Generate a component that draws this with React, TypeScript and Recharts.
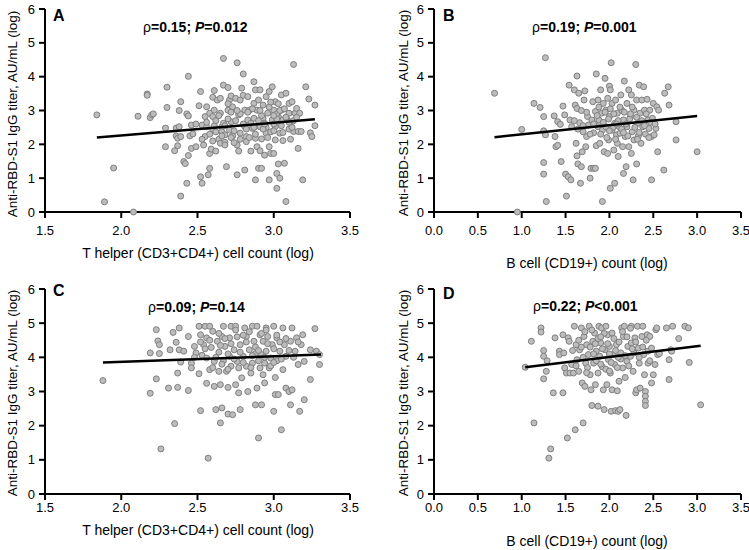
import React from 'react';
import { ScatterChart, Scatter, XAxis, YAxis } from 'recharts';

type Pt = [number, number];

const FONT = '"Liberation Sans", Arial, Helvetica, sans-serif';

const xTicksTHelper = [1.5, 2.0, 2.5, 3.0, 3.5];
const xTicksBCell = [0, 0.5, 1.0, 1.5, 2.0, 2.5, 3.0, 3.5];
const yTicks = [0, 1, 2, 3, 4, 5, 6];

const yLabel = 'Anti-RBD-S1 IgG titer, AU/mL (log)';
const xLabelTHelper = 'T helper (CD3+CD4+) cell count (log)';
const xLabelBCell = 'B cell (CD19+) count (log)';

// Panel A: T helper vs titer (first)
const pointsA: Pt[] = [
  [1.84, 2.87], [1.89, 0.3], [1.95, 1.3], [2.08, 0.0], [2.11, 2.83], [2.17, 3.49], [2.17, 3.45],
  [2.19, 2.79], [2.2, 2.87], [2.21, 2.9], [2.29, 1.93], [2.29, 2.48], [2.3, 3.69], [2.3, 3.09],
  [2.35, 1.81], [2.36, 2.48], [2.36, 2.25], [2.37, 2.18], [2.37, 1.96], [2.38, 3.0], [2.39, 3.26],
  [2.38, 2.52], [2.39, 2.23], [2.39, 0.47], [2.41, 1.49], [2.42, 1.43], [2.43, 0.85], [2.44, 4.01],
  [2.43, 2.9], [2.44, 2.84], [2.44, 1.67], [2.45, 2.25], [2.46, 2.57], [2.46, 1.88], [2.47, 2.31],
  [2.49, 1.93], [2.49, 2.6], [2.51, 3.14], [2.52, 3.56], [2.52, 1.04], [2.53, 0.85], [2.53, 2.57],
  [2.54, 1.98], [2.55, 2.82], [2.56, 3.11], [2.55, 2.23], [2.56, 2.52], [2.57, 1.1], [2.58, 2.92],
  [2.58, 1.29], [2.58, 1.73], [2.59, 1.86], [2.6, 2.44], [2.61, 3.59], [2.6, 3.39], [2.61, 3.01],
  [2.6, 2.82], [2.61, 2.55], [2.62, 2.37], [2.62, 1.8], [2.63, 3.31], [2.64, 2.15], [2.65, 3.36],
  [2.65, 2.92], [2.65, 2.03], [2.66, 2.52], [2.66, 2.37], [2.67, 2.62], [2.67, 4.54], [2.67, 3.75],
  [2.68, 2.28], [2.68, 2.06], [2.68, 1.98], [2.69, 1.34], [2.7, 3.68], [2.7, 3.01], [2.71, 3.31],
  [2.71, 2.42], [2.72, 2.67], [2.72, 3.43], [2.73, 3.11], [2.73, 2.25], [2.75, 2.7], [2.75, 3.36],
  [2.76, 1.98], [2.76, 4.41], [2.76, 1.1], [2.77, 1.8], [2.77, 2.87], [2.78, 2.33], [2.78, 3.31],
  [2.79, 3.66], [2.8, 3.45], [2.8, 4.08], [2.8, 2.59], [2.81, 2.52], [2.81, 3.01], [2.81, 1.24],
  [2.82, 2.23], [2.82, 2.08], [2.83, 2.72], [2.83, 3.41], [2.84, 3.01], [2.85, 1.8], [2.86, 2.47],
  [2.87, 3.85], [2.87, 3.21], [2.87, 2.77], [2.88, 2.18], [2.88, 3.61], [2.88, 0.95], [2.89, 1.93],
  [2.89, 3.01], [2.9, 1.29], [2.9, 3.31], [2.91, 3.61], [2.91, 2.52], [2.91, 1.81], [2.92, 2.16],
  [2.92, 1.29], [2.93, 2.77], [2.93, 3.16], [2.94, 1.68], [2.94, 2.62], [2.95, 3.41], [2.95, 2.33],
  [2.96, 2.92], [2.97, 0.95], [2.97, 1.93], [2.97, 3.56], [2.98, 2.37], [2.98, 1.73], [2.99, 2.72],
  [2.99, 3.7], [3.0, 1.73], [3.0, 3.01], [3.01, 3.26], [3.01, 2.13], [3.01, 2.52], [3.02, 0.7],
  [3.02, 1.14], [3.03, 2.82], [3.03, 1.42], [3.04, 1.0], [3.04, 2.33], [3.05, 3.46], [3.05, 3.01],
  [3.06, 2.11], [3.06, 2.72], [3.07, 1.44], [3.08, 0.31], [3.08, 3.51], [3.09, 2.72], [3.1, 2.92],
  [3.1, 3.21], [3.11, 2.15], [3.12, 3.26], [3.12, 2.67], [3.13, 2.38], [3.13, 4.36], [3.14, 2.92],
  [3.15, 3.06], [3.16, 2.38], [3.16, 1.88], [3.17, 2.92], [3.18, 2.38], [3.19, 0.95], [3.21, 3.7],
  [3.23, 3.34], [3.24, 2.34], [3.25, 2.23], [3.27, 3.16], [3.27, 2.55],
  [2.62, 2.7], [2.68, 2.55], [2.72, 2.2], [2.74, 2.05], [2.78, 2.9], [2.82, 2.45], [2.85, 2.62],
  [2.88, 2.3], [2.92, 2.85], [2.95, 2.5], [2.97, 3.1], [3.0, 2.6], [3.02, 2.9], [3.03, 3.2],
  [3.05, 2.55], [3.08, 2.8], [3.1, 2.65], [2.58, 2.3], [2.6, 2.1], [2.64, 2.85], [2.7, 2.75],
  [2.74, 2.4], [2.76, 3.0], [2.8, 2.6], [2.84, 2.2], [2.86, 3.05], [2.9, 2.7], [2.93, 2.45],
  [2.96, 2.2], [2.98, 3.25], [3.0, 2.4], [3.02, 2.75], [3.04, 3.0], [3.07, 3.05], [3.1, 2.45],
  [3.13, 2.7], [3.15, 2.8], [2.53, 2.15], [2.56, 2.65], [2.66, 2.25], [2.7, 3.2], [2.72, 2.95],
  [2.78, 2.15], [2.83, 2.95], [2.87, 2.5], [2.91, 3.0], [2.94, 2.6], [3.0, 2.85], [3.06, 2.35],
  [3.12, 2.5],
];
const fitA: Pt[] = [[1.84, 2.2], [3.27, 2.74]];

// Panel B: B cell vs titer (first)
const pointsB: Pt[] = [
  [0.69, 3.51], [1.0, 2.44], [1.14, 3.21], [1.21, 3.09], [1.25, 2.82], [1.25, 2.4], [1.25, 1.46],
  [1.25, 1.12], [1.27, 4.56], [1.27, 2.28], [1.28, 0.31], [0.95, 0.0], [1.37, 2.84], [1.38, 2.23],
  [1.39, 1.93], [1.41, 1.97], [1.41, 2.67], [1.44, 2.59], [1.45, 1.49], [1.47, 3.13], [1.49, 2.87],
  [1.5, 1.12], [1.51, 0.47], [1.53, 1.04], [1.54, 3.75], [1.55, 2.72], [1.56, 0.95], [1.57, 2.52],
  [1.6, 3.61], [1.61, 3.16], [1.62, 2.03], [1.63, 4.02], [1.63, 1.66], [1.63, 3.06], [1.64, 1.42],
  [1.65, 3.51], [1.66, 2.64], [1.67, 0.85], [1.68, 1.34], [1.69, 1.78], [1.7, 2.37], [1.71, 3.31],
  [1.72, 3.58], [1.73, 1.93], [1.74, 2.23], [1.75, 2.82], [1.76, 2.57], [1.78, 1.0], [1.79, 1.29],
  [1.8, 2.72], [1.81, 3.26], [1.82, 1.29], [1.82, 2.34], [1.84, 2.97], [1.84, 1.29], [1.85, 4.08],
  [1.85, 1.96], [1.87, 3.31], [1.87, 2.52], [1.88, 2.72], [1.89, 2.03], [1.9, 3.61], [1.91, 2.92],
  [1.92, 0.31], [1.92, 2.42], [1.93, 3.21], [1.94, 1.78], [1.95, 3.95], [1.96, 2.52], [1.96, 3.01],
  [1.98, 1.73], [1.98, 3.36], [1.99, 2.13], [2.0, 3.72], [2.0, 2.82], [2.01, 3.61], [2.01, 0.7],
  [2.02, 4.41], [2.03, 2.42], [2.03, 3.21], [2.05, 1.83], [2.06, 2.62], [2.06, 0.85], [2.07, 3.31],
  [2.08, 2.28], [2.09, 2.92], [2.09, 2.03], [2.1, 1.64], [2.11, 2.52], [2.12, 2.33], [2.13, 3.46],
  [2.14, 3.01], [2.15, 1.93], [2.16, 1.14], [2.16, 2.72], [2.17, 3.87], [2.18, 2.23], [2.19, 1.34],
  [2.2, 3.21], [2.2, 2.52], [2.22, 3.61], [2.22, 1.93], [2.24, 2.82], [2.25, 3.46], [2.25, 1.73],
  [2.26, 2.37], [2.27, 0.95], [2.28, 3.01], [2.28, 2.13], [2.3, 4.36], [2.31, 3.31], [2.31, 1.42],
  [2.32, 2.62], [2.33, 2.25], [2.34, 3.75], [2.35, 2.92], [2.36, 2.03], [2.37, 3.31], [2.38, 2.52],
  [2.39, 3.7], [2.4, 3.01], [2.41, 2.3], [2.43, 3.33], [2.44, 2.72], [2.45, 2.47], [2.46, 3.01],
  [2.48, 2.23], [2.48, 0.95], [2.49, 2.77], [2.5, 3.21], [2.51, 2.28], [2.53, 2.47], [2.54, 3.11],
  [2.55, 1.78], [2.56, 3.01], [2.62, 1.24], [2.63, 3.51], [2.67, 3.7], [2.68, 3.16], [2.76, 2.67],
  [2.76, 2.13], [3.0, 1.78],
  [1.82, 2.6], [1.86, 2.85], [1.9, 2.3], [1.93, 2.65], [1.95, 2.95], [1.97, 2.2], [1.99, 2.75],
  [2.01, 3.05], [2.04, 2.5], [2.05, 2.9], [2.07, 2.15], [2.1, 2.7], [2.12, 3.1], [2.14, 2.45],
  [2.17, 2.95], [2.19, 2.6], [2.21, 2.25], [2.23, 2.75], [2.26, 3.1], [2.29, 2.5], [2.31, 2.8],
  [2.34, 2.35], [2.37, 2.7], [2.4, 2.55], [2.42, 2.9], [2.45, 2.2], [2.47, 2.65], [1.7, 2.55],
  [1.74, 2.95], [1.78, 2.3], [1.6, 2.7], [1.64, 2.45], [1.68, 3.0], [2.0, 2.4], [2.08, 2.6],
  [2.16, 2.35], [2.24, 2.9], [2.32, 2.15], [2.52, 2.6], [1.88, 3.1],
];
const fitB: Pt[] = [[0.69, 2.21], [3.0, 2.84]];

// Panel C: T helper vs titer (second)
const pointsC: Pt[] = [
  [1.88, 3.32], [2.19, 2.95], [2.19, 4.13], [2.23, 4.81], [2.23, 3.37], [2.24, 4.48], [2.25, 4.37],
  [2.26, 1.32], [2.25, 4.11], [2.31, 3.1], [2.32, 4.22], [2.34, 4.73], [2.35, 2.06], [2.36, 4.44],
  [2.37, 3.54], [2.37, 3.12], [2.38, 4.86], [2.38, 4.22], [2.39, 3.86], [2.41, 4.18], [2.44, 4.61],
  [2.44, 3.03], [2.46, 3.83], [2.46, 3.69], [2.48, 4.32], [2.49, 4.13], [2.51, 3.52], [2.51, 4.91],
  [2.52, 4.66], [2.52, 2.44], [2.53, 4.06], [2.54, 4.37], [2.55, 4.91], [2.56, 4.57], [2.56, 3.98],
  [2.56, 3.24], [2.57, 1.05], [2.58, 4.91], [2.58, 3.64], [2.59, 4.29], [2.6, 4.76], [2.61, 3.15],
  [2.61, 3.88], [2.62, 2.47], [2.63, 4.47], [2.64, 4.15], [2.64, 3.59], [2.65, 3.2], [2.65, 2.08],
  [2.66, 4.61], [2.66, 2.52], [2.67, 4.91], [2.67, 3.9], [2.68, 4.32], [2.69, 3.59], [2.7, 3.12],
  [2.7, 2.34], [2.71, 4.03], [2.71, 4.57], [2.72, 4.91], [2.72, 3.74], [2.73, 2.32], [2.74, 4.22],
  [2.75, 4.91], [2.75, 3.2], [2.76, 3.88], [2.77, 2.96], [2.77, 3.69], [2.78, 2.47], [2.78, 4.37],
  [2.79, 3.4], [2.8, 4.03], [2.81, 4.86], [2.82, 3.74], [2.82, 4.61], [2.83, 3.0], [2.84, 4.22],
  [2.85, 3.54], [2.86, 4.91], [2.86, 3.83], [2.87, 4.47], [2.88, 2.61], [2.88, 4.11], [2.89, 4.91],
  [2.89, 3.1], [2.9, 1.64], [2.91, 3.69], [2.91, 4.66], [2.92, 4.08], [2.92, 2.61], [2.93, 3.49],
  [2.93, 4.47], [2.94, 3.25], [2.94, 3.83], [2.95, 4.86], [2.95, 4.18], [2.96, 4.61], [2.97, 3.69],
  [2.98, 3.98], [2.99, 4.37], [3.0, 4.91], [3.0, 2.42], [3.01, 3.41], [3.01, 2.91], [3.02, 4.57],
  [3.02, 3.9], [3.03, 2.91], [3.04, 4.18], [3.05, 1.88], [3.06, 4.86], [3.06, 3.64], [3.07, 4.37],
  [3.08, 3.1], [3.08, 4.03], [3.1, 3.0], [3.11, 2.61], [3.11, 4.47], [3.12, 3.05], [3.12, 4.86],
  [3.14, 4.18], [3.15, 4.57], [3.16, 3.79], [3.17, 2.42], [3.18, 4.37], [3.19, 4.66], [3.2, 3.88],
  [3.2, 2.76], [3.24, 4.22], [3.24, 3.35], [3.27, 4.84], [3.28, 4.18], [3.3, 4.08], [3.3, 3.79],
  [2.55, 4.25], [2.58, 4.5], [2.62, 4.0], [2.64, 4.7], [2.66, 3.8], [2.68, 4.55], [2.7, 4.1],
  [2.72, 4.4], [2.74, 3.95], [2.76, 4.6], [2.78, 4.15], [2.8, 3.85], [2.82, 4.45], [2.84, 4.75],
  [2.86, 4.05], [2.88, 4.3], [2.9, 3.9], [2.92, 4.7], [2.94, 4.0], [2.96, 4.4], [2.98, 3.75],
  [3.0, 4.25], [3.02, 4.65], [3.05, 3.95], [3.08, 4.55], [3.1, 4.2], [3.13, 4.0], [3.16, 4.45],
  [2.6, 3.7], [2.7, 3.65], [2.8, 4.65], [2.9, 4.2], [3.0, 3.85], [2.52, 4.45], [2.65, 4.35],
  [2.75, 4.8], [2.85, 3.7], [2.95, 4.8], [3.04, 4.45], [2.48, 4.0],
];
const fitC: Pt[] = [[1.88, 3.85], [3.31, 4.08]];

// Panel D: B cell vs titer (second)
const pointsD: Pt[] = [
  [1.04, 3.71], [1.11, 4.47], [1.14, 2.08], [1.22, 4.86], [1.22, 4.74], [1.25, 4.2], [1.25, 4.03],
  [1.25, 3.37], [1.28, 3.59], [1.29, 3.9], [1.31, 1.05], [1.33, 1.32], [1.36, 2.96], [1.38, 4.57],
  [1.43, 4.18], [1.43, 4.08], [1.47, 4.66], [1.47, 2.96], [1.48, 4.13], [1.49, 3.69], [1.51, 3.54],
  [1.52, 1.64], [1.53, 4.57], [1.54, 4.47], [1.55, 3.54], [1.57, 3.79], [1.59, 3.54], [1.6, 4.91],
  [1.61, 1.88], [1.62, 4.37], [1.63, 3.93], [1.65, 3.59], [1.66, 4.22], [1.68, 4.86], [1.69, 3.25],
  [1.7, 2.08], [1.71, 4.61], [1.72, 3.15], [1.73, 3.83], [1.74, 4.37], [1.76, 4.08], [1.77, 4.91],
  [1.78, 3.49], [1.79, 3.05], [1.8, 2.59], [1.81, 4.47], [1.82, 3.83], [1.83, 4.71], [1.84, 3.2],
  [1.85, 4.18], [1.87, 2.57], [1.87, 3.54], [1.88, 4.91], [1.89, 4.03], [1.9, 4.42], [1.91, 4.86],
  [1.92, 3.72], [1.93, 3.05], [1.94, 2.47], [1.95, 4.22], [1.96, 4.91], [1.97, 3.2], [1.98, 4.66],
  [1.99, 3.93], [2.0, 4.32], [2.01, 3.54], [2.02, 2.42], [2.03, 4.71], [2.03, 3.05], [2.04, 4.08],
  [2.06, 3.79], [2.07, 2.44], [2.08, 4.37], [2.09, 3.02], [2.1, 2.42], [2.11, 3.3], [2.12, 2.47],
  [2.13, 4.13], [2.14, 4.86], [2.15, 3.69], [2.16, 4.61], [2.17, 4.91], [2.18, 3.41], [2.19, 2.3],
  [2.2, 3.88], [2.21, 4.32], [2.24, 4.03], [2.25, 4.42], [2.25, 4.91], [2.27, 3.59], [2.28, 4.13],
  [2.29, 4.57], [2.3, 2.96], [2.31, 3.05], [2.32, 4.91], [2.33, 4.27], [2.34, 3.83], [2.35, 3.1],
  [2.37, 4.61], [2.38, 4.91], [2.39, 4.08], [2.4, 3.49], [2.41, 3.0], [2.41, 2.86], [2.41, 2.71],
  [2.41, 2.59], [2.43, 4.66], [2.44, 3.83], [2.44, 4.18], [2.46, 4.61], [2.48, 3.25], [2.48, 4.27],
  [2.5, 3.49], [2.52, 3.79], [2.53, 4.81], [2.54, 4.86], [2.55, 4.08], [2.57, 4.11], [2.65, 4.86],
  [2.68, 3.35], [2.68, 3.93], [2.7, 4.22], [2.71, 4.18], [2.72, 4.91], [2.79, 4.55], [2.86, 4.91],
  [2.9, 4.86], [2.91, 3.85], [3.04, 2.61],
  [1.65, 4.5], [1.7, 4.0], [1.72, 4.75], [1.75, 3.7], [1.78, 4.3], [1.8, 4.8], [1.82, 4.1],
  [1.85, 3.9], [1.87, 4.55], [1.9, 3.8], [1.92, 4.25], [1.94, 4.7], [1.96, 3.65], [1.98, 4.4],
  [2.0, 4.1], [2.02, 3.85], [2.05, 4.55], [2.07, 4.2], [2.09, 3.7], [2.11, 4.45], [2.13, 3.95],
  [2.15, 4.75], [2.18, 4.05], [2.2, 4.6], [2.22, 3.75], [2.26, 4.25], [2.3, 4.45], [2.34, 4.0],
  [2.38, 4.3], [2.42, 4.5], [2.46, 3.9], [1.58, 4.2], [1.62, 3.75], [1.68, 4.3], [1.74, 3.55],
  [1.84, 4.4], [1.9, 4.6], [2.0, 3.6], [2.1, 4.0], [2.24, 4.85],
];
const fitD: Pt[] = [[1.04, 3.71], [3.04, 4.34]];

const Dot = (props: any) => (
  <circle cx={props.cx} cy={props.cy} r={3} fill="#bcbcbc" stroke="#7f7f7f" strokeWidth={1} />
);
const NoShape = () => <g />;

type PanelProps = {
  left: number;
  top: number;
  width: number;
  height: number;
  marginTop: number;
  marginRight: number;
  yAxisWidth: number;
  xAxisHeight: number;
  xTickMargin: number;
  xDomain: [number, number];
  xTicks: number[];
  points: Pt[];
  fit: Pt[];
};

function Panel(p: PanelProps) {
  const data = p.points.map(([x, y]) => ({ x, y }));
  const fitData = p.fit.map(([x, y]) => ({ x, y }));
  return (
    <div style={{ position: 'absolute', left: p.left, top: p.top }}>
      <ScatterChart
        width={p.width}
        height={p.height}
        margin={{ top: p.marginTop, right: p.marginRight, left: 0, bottom: 0 }}
      >
        <XAxis
          type="number"
          dataKey="x"
          domain={p.xDomain}
          ticks={p.xTicks}
          interval={0}
          tickFormatter={(v: number) => v.toFixed(1)}
          axisLine={{ stroke: '#000', strokeWidth: 2 }}
          tickLine={{ stroke: '#000', strokeWidth: 2 }}
          tickSize={6}
          tickMargin={p.xTickMargin}
          height={p.xAxisHeight}
          tick={{ fill: '#000', fontSize: 13, fontFamily: FONT }}
        />
        <YAxis
          type="number"
          dataKey="y"
          domain={[0, 6]}
          ticks={yTicks}
          interval={0}
          axisLine={{ stroke: '#000', strokeWidth: 2 }}
          tickLine={{ stroke: '#000', strokeWidth: 2 }}
          tickSize={6}
          tickMargin={4}
          width={p.yAxisWidth}
          tick={{ fill: '#000', fontSize: 13, fontFamily: FONT }}
        />
        <Scatter data={data} shape={Dot} isAnimationActive={false} />
        <Scatter
          data={fitData}
          line={{ stroke: '#000', strokeWidth: 2.5 }}
          shape={NoShape}
          isAnimationActive={false}
        />
      </ScatterChart>
    </div>
  );
}

function Stats({ x, y, rho, pText }: { x: number; y: number; rho: string; pText: string }) {
  return (
    <text x={x} y={y} fontSize={14} fontFamily={FONT} fill="#000">
      <tspan fontWeight="normal">ρ</tspan>
      <tspan fontWeight="bold">{'=' + rho + '; '}</tspan>
      <tspan fontWeight="bold" fontStyle="italic">P</tspan>
      <tspan fontWeight="bold">{pText}</tspan>
    </text>
  );
}

function YLabel({ cx, cy }: { cx: number; cy: number }) {
  return (
    <text
      x={cx}
      y={cy}
      transform={`rotate(-90 ${cx} ${cy})`}
      textAnchor="middle"
      dominantBaseline="central"
      fontSize={13.5}
      fontFamily={FONT}
      fill="#000"
    >
      {yLabel}
    </text>
  );
}

function XLabel({ cx, cy, text }: { cx: number; cy: number; text: string }) {
  return (
    <text x={cx} y={cy} textAnchor="middle" dominantBaseline="central" fontSize={14} fontFamily={FONT} fill="#000">
      {text}
    </text>
  );
}

function Letter({ x, y, t }: { x: number; y: number; t: string }) {
  return (
    <text x={x} y={y} fontSize={16} fontWeight="bold" fontFamily={FONT} fill="#000">
      {t}
    </text>
  );
}

export default function App() {
  return (
    <div style={{ position: 'absolute', left: 0, top: 0, width: 749, height: 550, background: '#fff', overflow: 'hidden' }}>
      <Panel left={0} top={0} width={375} height={275} marginTop={9} marginRight={25} yAxisWidth={45}
        xAxisHeight={63} xTickMargin={8} xDomain={[1.5, 3.5]} xTicks={xTicksTHelper} points={pointsA} fit={fitA} />
      <Panel left={375} top={0} width={374} height={275} marginTop={9} marginRight={8} yAxisWidth={59}
        xAxisHeight={63} xTickMargin={8} xDomain={[0, 3.5]} xTicks={xTicksBCell} points={pointsB} fit={fitB} />
      <Panel left={0} top={275} width={375} height={275} marginTop={14} marginRight={25} yAxisWidth={45}
        xAxisHeight={56} xTickMargin={3} xDomain={[1.5, 3.5]} xTicks={xTicksTHelper} points={pointsC} fit={fitC} />
      <Panel left={375} top={275} width={374} height={275} marginTop={14} marginRight={8} yAxisWidth={59}
        xAxisHeight={56} xTickMargin={3} xDomain={[0, 3.5]} xTicks={xTicksBCell} points={pointsD} fit={fitD} />
      <svg width={749} height={550} style={{ position: 'absolute', left: 0, top: 0, pointerEvents: 'none' }}>
        <Letter x={53} y={21} t="A" />
        <Letter x={443} y={21} t="B" />
        <Letter x={53} y={296} t="C" />
        <Letter x={443} y={299} t="D" />
        <Stats x={143} y={32} rho="0.15" pText="=0.012" />
        <Stats x={532} y={32} rho="0.19" pText="=0.001" />
        <Stats x={148} y={312} rho="0.09" pText="=0.14" />
        <Stats x={533} y={311} rho="0.22" pText="<0.001" />
        <YLabel cx={12} cy={114} />
        <YLabel cx={403} cy={113} />
        <YLabel cx={12} cy={393} />
        <YLabel cx={403} cy={393} />
        <XLabel cx={198} cy={253} text={xLabelTHelper} />
        <XLabel cx={587} cy={263} text={xLabelBCell} />
        <XLabel cx={198} cy={530} text={xLabelTHelper} />
        <XLabel cx={587} cy={541} text={xLabelBCell} />
      </svg>
    </div>
  );
}
